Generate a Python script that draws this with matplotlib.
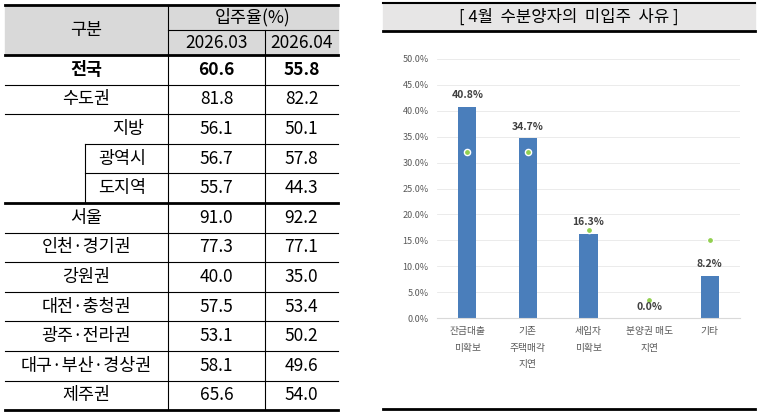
import matplotlib.pyplot as plt
from matplotlib.patches import Rectangle

plt.rcParams['font.family'] = ['Noto Sans CJK KR', 'DejaVu Sans']

# ---------- Table data ----------
regions = ["전국", "수도권", "지방", "광역시", "도지역", "서울", "인천·경기권", "강원권",
           "대전·충청권", "광주·전라권", "대구·부산·경상권", "제주권"]
rate_2603 = [60.6, 81.8, 56.1, 56.7, 55.7, 91.0, 77.3, 40.0, 57.5, 53.1, 58.1, 65.6]
rate_2604 = [55.8, 82.2, 50.1, 57.8, 44.3, 92.2, 77.1, 35.0, 53.4, 50.2, 49.6, 54.0]
months = ["2026.03", "2026.04"]

# ---------- Chart data ----------
reasons = ["잔금대출\n미확보", "기존\n주택매각\n지연", "세입자\n미확보", "분양권 매도\n지연", "기타"]
share_apr = [40.8, 34.7, 16.3, 0.0, 8.2]
share_prev = [32.0, 32.0, 17.0, 3.5, 15.0]
yticks = [0, 5, 10, 15, 20, 25, 30, 35, 40, 45, 50]

fig = plt.figure(figsize=(7.61, 4.13), dpi=100)

# ---------- Table (pixel coords) ----------
tb = fig.add_axes([0, 0, 1, 1])
tb.set_xlim(0, 761)
tb.set_ylim(413, 0)
tb.axis("off")

fs = 12.5
x0, x1, x2, x3 = 5, 168, 265, 338
tb.add_patch(Rectangle((x0, 5), x3 - x0, 50, color="#d9d9d9", zorder=0))
tb.plot([x0, x3], [5, 5], color="k", lw=2)
tb.plot([x0, x3], [55, 55], color="k", lw=2)
tb.plot([x1, x3], [30, 30], color="k", lw=0.8)
tb.plot([x1, x1], [5, 410], color="k", lw=0.8)
tb.plot([x2, x2], [30, 410], color="k", lw=0.8)
tb.text((x0 + x1) / 2, 30, "구분", ha="center", va="center", fontsize=fs)
tb.text((x1 + x3) / 2, 17, "입주율(%)", ha="center", va="center", fontsize=fs)
tb.text((x1 + x2) / 2, 43, months[0], ha="center", va="center", fontsize=fs)
tb.text((x2 + x3) / 2, 43, months[1], ha="center", va="center", fontsize=fs)

row_h = 29.6
for i, name in enumerate(regions):
    yc = 55 + row_h * (i + 0.5)
    yb = 55 + row_h * (i + 1)
    bold = "bold" if i == 0 else "normal"
    if i in (3, 4):
        xc = 122
    elif i == 2:
        xc = 128
    else:
        xc = (x0 + x1) / 2
    tb.text(xc, yc, name, ha="center", va="center", fontsize=fs, fontweight=bold)
    tb.text((x1 + x2) / 2, yc, f"{rate_2603[i]:.1f}", ha="center", va="center", fontsize=fs, fontweight=bold)
    tb.text((x2 + x3) / 2, yc, f"{rate_2604[i]:.1f}", ha="center", va="center", fontsize=fs, fontweight=bold)
    if i in (4, len(regions) - 1):
        tb.plot([x0, x3], [yb, yb], color="k", lw=2)
    elif i in (2, 3):
        tb.plot([85, x3], [yb, yb], color="k", lw=0.8)
    else:
        tb.plot([x0, x3], [yb, yb], color="k", lw=0.8)
tb.plot([85, 85], [55 + row_h * 3, 55 + row_h * 5], color="k", lw=0.8)

# ---------- Chart frame ----------
tb.add_patch(Rectangle((383, 3), 372, 28, color="#e7e6e6", zorder=0))
tb.plot([383, 755], [3, 3], color="k", lw=1.5)
tb.plot([383, 755], [31, 31], color="k", lw=2)
tb.plot([383, 755], [409, 409], color="k", lw=2)
tb.text(569, 17, "[ 4월  수분양자의  미입주  사유 ]", ha="center", va="center", fontsize=12)

# ---------- Bar chart ----------
ax = fig.add_axes([437 / 761, 1 - 318 / 413, 303 / 761, 259 / 413])
xs = range(len(reasons))
ax.bar(xs, share_apr, width=0.3, color="#4a7ebb", zorder=2)
ax.scatter(xs, share_prev, s=20, color="#92d050", edgecolor="white", linewidth=1, zorder=3)
for x, v in zip(xs, share_apr):
    ax.text(x, v + 1.2, f"{v:.1f}%", ha="center", va="bottom", fontsize=7.5,
            fontweight="bold", color="#404040")
ax.set_ylim(0, 50)
ax.set_yticks(yticks)
ax.set_yticklabels([f"{t:.1f}%" for t in yticks], fontsize=6.5, color="#595959")
ax.set_xticks(list(xs))
ax.set_xticklabels(reasons, fontsize=7, color="#595959", linespacing=1.8)
ax.set_xlim(-0.5, len(reasons) - 0.5)
ax.grid(axis="y", color="#e8e8e8", lw=0.6, zorder=0)
for s in ["top", "right", "left"]:
    ax.spines[s].set_visible(False)
ax.spines["bottom"].set_color("#d9d9d9")
ax.tick_params(length=0, pad=6)

fig.savefig("out.png", dpi=100)
